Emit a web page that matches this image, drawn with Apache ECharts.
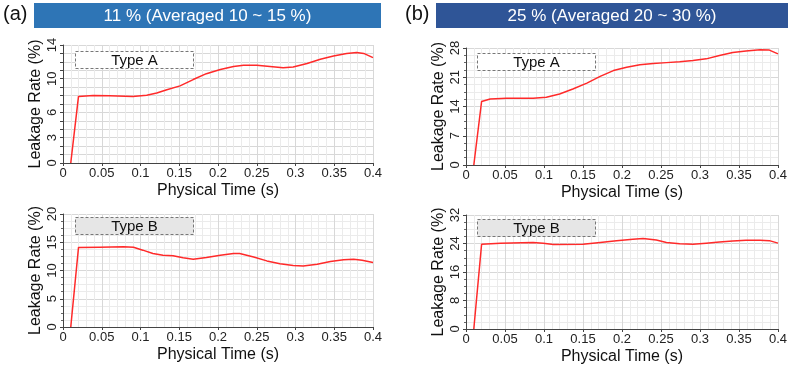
<!DOCTYPE html>
<html>
<head>
<meta charset="utf-8">
<script src="https://cdn.jsdelivr.net/npm/echarts@6/dist/echarts.min.js"></script>
<style>
  html, body { margin: 0; padding: 0; background: #fff; }
  #chart { width: 790px; height: 366px; }
</style>
</head>
<body>
<div id="chart"></div>
<script>
// (a) 11 % — Type A
const timeA1 = [0.01, 0.02, 0.039, 0.06, 0.09, 0.108, 0.121, 0.134, 0.151, 0.168, 0.185, 0.203, 0.22, 0.233, 0.25, 0.267, 0.284, 0.297, 0.315, 0.332, 0.349, 0.366, 0.379, 0.388, 0.4]
const rateA1 = [0, 7.9, 8.0, 7.97, 7.9, 8.05, 8.3, 8.7, 9.15, 9.9, 10.6, 11.1, 11.45, 11.6, 11.6, 11.45, 11.3, 11.4, 11.8, 12.3, 12.7, 13.0, 13.1, 13.0, 12.5]
// (b) 25 % — Type A
const timeA2 = [0.01, 0.02, 0.031, 0.052, 0.086, 0.103, 0.12, 0.137, 0.155, 0.172, 0.189, 0.206, 0.223, 0.24, 0.257, 0.274, 0.291, 0.308, 0.325, 0.342, 0.359, 0.377, 0.389, 0.4]
const rateA2 = [0, 15.2, 15.8, 16.0, 16.0, 16.2, 17.0, 18.2, 19.6, 21.2, 22.6, 23.4, 24.0, 24.3, 24.5, 24.7, 25.0, 25.4, 26.2, 26.9, 27.3, 27.6, 27.5, 26.6]
// (a) 11 % — Type B
const timeB1 = [0.01, 0.02, 0.047, 0.078, 0.091, 0.103, 0.116, 0.129, 0.142, 0.155, 0.168, 0.185, 0.203, 0.22, 0.228, 0.246, 0.263, 0.28, 0.297, 0.31, 0.328, 0.345, 0.362, 0.375, 0.386, 0.4]
const rateB1 = [0, 14.08, 14.1, 14.2, 14.1, 13.6, 13.0, 12.7, 12.6, 12.25, 12.0, 12.3, 12.7, 13.0, 13.0, 12.4, 11.7, 11.2, 10.9, 10.8, 11.1, 11.6, 11.9, 12.0, 11.8, 11.4]
// (b) 25 % — Type B
const timeB2 = [0.01, 0.02, 0.044, 0.086, 0.099, 0.112, 0.15, 0.172, 0.193, 0.214, 0.227, 0.244, 0.257, 0.274, 0.291, 0.308, 0.325, 0.342, 0.359, 0.377, 0.389, 0.4]
const rateB2 = [0, 23.8, 24.1, 24.25, 24.1, 23.7, 23.8, 24.3, 24.8, 25.2, 25.4, 25.0, 24.3, 23.9, 23.8, 24.1, 24.4, 24.7, 24.9, 24.9, 24.8, 24.1]

// y tick labels per panel
const yTicksA1 = [0, 3, 6, 10, 14]
const yTicksA2 = [0, 7, 14, 21, 28]
const yTicksB1 = [0, 5, 10, 15, 20]
const yTicksB2 = [0, 8, 16, 24, 32]

const titleA = '11 % (Averaged 10 ~ 15 %)'
const titleB = '25 % (Averaged 20 ~ 30 %)'

const FONT = 'Liberation Sans, Arial, sans-serif'

const grids = [
  { left: 63, top: 45, width: 310, height: 118 },
  { left: 466, top: 48, width: 312, height: 117 },
  { left: 63, top: 214, width: 310, height: 113 },
  { left: 466, top: 215, width: 312, height: 114 }
]

const makeX = (i) => ({
  gridIndex: i,
  type: 'value',
  min: 0,
  max: 0.4,
  interval: 0.05,
  name: 'Physical Time (s)',
  nameLocation: 'middle',
  nameGap: 20,
  nameTextStyle: { fontFamily: FONT, fontSize: 16, color: '#111' },
  axisLine: { lineStyle: { color: '#444', width: 1 } },
  axisTick: { show: true, length: 3, lineStyle: { color: '#444' } },
  axisLabel: {
    fontFamily: FONT, fontSize: 13, color: '#222', margin: 4,
    formatter: (v) => String(+v.toFixed(2))
  },
  splitLine: { show: true, lineStyle: { color: '#d8d8d8', width: 1 } },
  minorTick: { show: false, splitNumber: 5 },
  minorSplitLine: { show: true, lineStyle: { color: '#ebebeb', width: 1 } }
})

const makeY = (i, ticks, interval, minorSplit) => ({
  gridIndex: i,
  type: 'value',
  min: 0,
  max: ticks[ticks.length - 1],
  interval: interval,
  name: 'Leakage Rate (%)',
  nameLocation: 'middle',
  nameGap: 19,
  nameTextStyle: { fontFamily: FONT, fontSize: 16, color: '#111' },
  axisLine: { show: true, lineStyle: { color: '#444', width: 1 } },
  axisTick: { show: true, length: 3, lineStyle: { color: '#444' } },
  axisLabel: {
    fontFamily: FONT, fontSize: 13, color: '#222', rotate: 90, margin: 4,
    showMaxLabel: true,
    formatter: (v) => (ticks.indexOf(Math.round(v * 100) / 100) >= 0 ? String(v) : '')
  },
  splitLine: { show: true, lineStyle: { color: '#d8d8d8', width: 1 } },
  minorTick: { show: minorSplit > 1, splitNumber: minorSplit, length: 2, lineStyle: { color: '#666' } },
  minorSplitLine: { show: minorSplit > 1, lineStyle: { color: '#ebebeb', width: 1 } }
})

const pairs = (xs, ys) => xs.map((x, k) => [x, ys[k]])

const makeSeries = (i, data) => ({
  type: 'line',
  xAxisIndex: i,
  yAxisIndex: i,
  data: data,
  showSymbol: false,
  smooth: false,
  lineStyle: { color: '#ff2a2a', width: 1.5, join: 'round' },
  silent: true
})

const typeBox = (x, y, label, fill) => ({
  type: 'group',
  left: x,
  top: y,
  z: 100,
  children: [
    {
      type: 'rect',
      z: 100,
      shape: { x: 0, y: 0, width: 118, height: 17 },
      style: { fill: fill, stroke: '#777', lineWidth: 1, lineDash: [3, 2] }
    },
    {
      type: 'text',
      z: 101,
      x: 59,
      y: 9,
      style: {
        text: label, fill: '#111', fontSize: 15, fontFamily: FONT,
        align: 'center', verticalAlign: 'middle'
      }
    }
  ]
})

const titleBar = (x, w, color, label) => ({
  type: 'group',
  left: x,
  top: 3,
  z: 100,
  children: [
    { type: 'rect', z: 100, shape: { x: 0, y: 0, width: w, height: 25 }, style: { fill: color } },
    {
      type: 'text', z: 101, x: w / 2, y: 13,
      style: {
        text: label, fill: '#fff', fontSize: 17, fontFamily: FONT,
        align: 'center', verticalAlign: 'middle'
      }
    }
  ]
})

const chart = echarts.init(document.getElementById('chart'))

chart.setOption({
  animation: false,
  backgroundColor: '#fff',
  grid: grids,
  xAxis: [makeX(0), makeX(1), makeX(2), makeX(3)],
  yAxis: [
    makeY(0, yTicksA1, 1, 1),
    makeY(1, yTicksA2, 7, 4),
    makeY(2, yTicksB1, 5, 4),
    makeY(3, yTicksB2, 8, 4)
  ],
  series: [
    makeSeries(0, pairs(timeA1, rateA1)),
    makeSeries(1, pairs(timeA2, rateA2)),
    makeSeries(2, pairs(timeB1, rateB1)),
    makeSeries(3, pairs(timeB2, rateB2))
  ],
  graphic: [
    titleBar(34, 347, '#2E75B6', titleA),
    titleBar(436, 352, '#2F5597', titleB),
    { type: 'text', left: 3, top: 4, z: 100, style: { text: '(a)', fill: '#111', fontSize: 20, fontFamily: FONT } },
    { type: 'text', left: 405, top: 4, z: 100, style: { text: '(b)', fill: '#111', fontSize: 20, fontFamily: FONT } },
    typeBox(75, 51, 'Type A', '#ffffff'),
    typeBox(477, 53, 'Type A', '#ffffff'),
    typeBox(75, 217, 'Type B', '#e6e6e6'),
    typeBox(477, 219, 'Type B', '#e6e6e6')
  ]
})
</script>
</body>
</html>
